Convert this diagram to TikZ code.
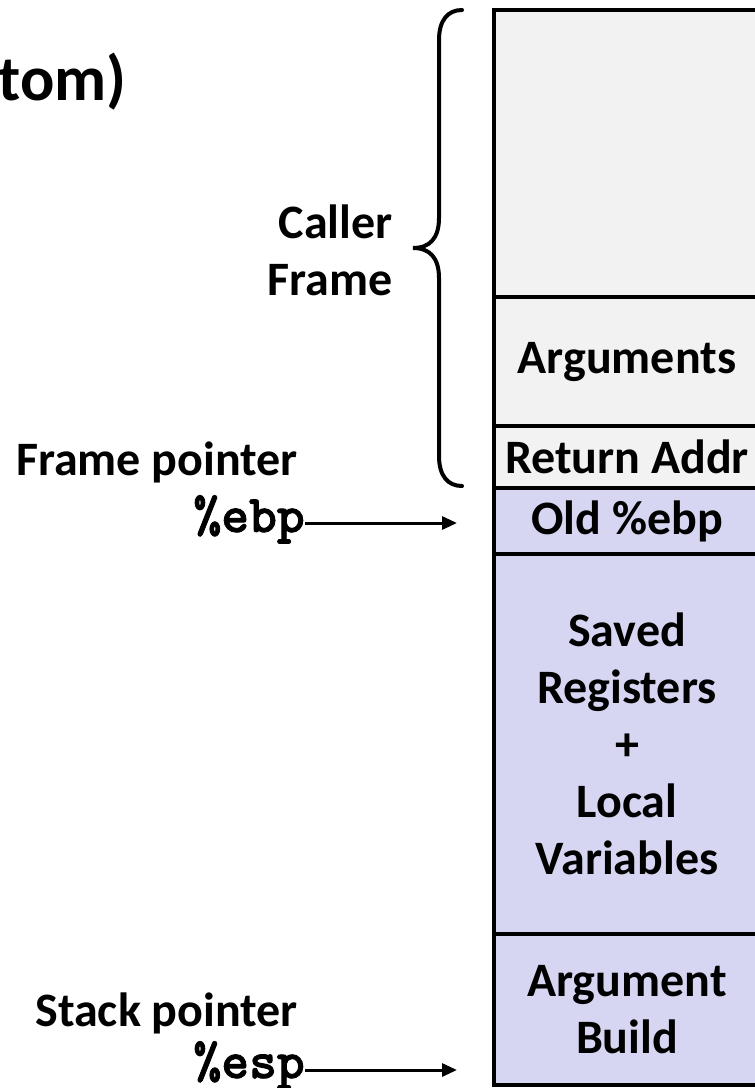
\documentclass[tikz,border=0pt]{standalone}
\usepackage{fontspec}
\setmainfont{Carlito}
\newfontfamily\codefont{lmmonolt10-bold}[Extension=.otf, FakeBold=1.6]
\usetikzlibrary{arrows.meta}
\definecolor{callergray}{RGB}{242,242,242}
\definecolor{calleeblue}{RGB}{214,214,242}
\begin{document}
\begin{tikzpicture}[x=1pt,y=-1pt,
  frame/.style={draw=black, line width=4.5pt, minimum width=266pt, inner sep=0pt, align=center, font=\fontsize{48}{57}\selectfont\bfseries},
  lbl/.style={font=\fontsize{48}{57}\selectfont\bfseries, inner sep=0pt},
  code/.style={font=\fontsize{53}{53}\selectfont\codefont, inner sep=0pt},
  ptr/.style={-{Triangle[length=15pt,width=13pt]}, line width=3pt},
  bracestyle/.style={line width=4pt, line cap=round}]
\useasboundingbox (0,0) rectangle (755,1088);
\clip (0,0) rectangle (755,1088);
% stack boxes
\node[frame, fill=callergray, minimum height=287pt] (caller) at (627,153.5) {};
\node[frame, fill=callergray, minimum height=129pt] (args) at (627,361.5) {Arguments};
\node[frame, fill=callergray, minimum height=62pt] (ret) at (627,457) {Return Addr};
\node[frame, fill=calleeblue, minimum height=66pt] (old) at (627,521) {Old \%ebp};
\node[frame, fill=calleeblue, minimum height=380pt] (saved) at (627,744) {Saved\\Registers\\+\\Local\\Variables};
\node[frame, fill=calleeblue, minimum height=151pt] (build) at (627,1009.5) {Argument\\Build};
% title fragment
\node[font=\fontsize{64}{64}\selectfont\bfseries, anchor=base east, inner sep=0pt] (title) at (127,100) {tom)};
% brace and caller label
\draw[bracestyle] (462,10) .. controls (448,10) and (439,20) .. (439,40) -- (439,218)
  .. controls (439,238) and (430,248) .. (413,248)
  .. controls (430,248) and (439,258) .. (439,278) -- (439,456)
  .. controls (439,476) and (448,486) .. (462,486);
\node[lbl, align=right, anchor=east] (callerlbl) at (393,250) {Caller\\Frame};
% pointers
\node[lbl, anchor=base east] (fplbl) at (298,475) {Frame pointer};
\node[code, anchor=base east] (ebp) at (305,532) {\%ebp};
\coordinate (ebptip) at (457,523);
\draw[ptr] ([yshift=9pt]ebp.base east) -- (ebptip);
\node[lbl, anchor=base east] (splbl) at (298,1026) {Stack pointer};
\node[code, anchor=base east] (esp) at (305,1078) {\%esp};
\coordinate (esptip) at (457,1070);
\draw[ptr] ([yshift=8pt]esp.base east) -- (esptip);
\end{tikzpicture}
\end{document}
